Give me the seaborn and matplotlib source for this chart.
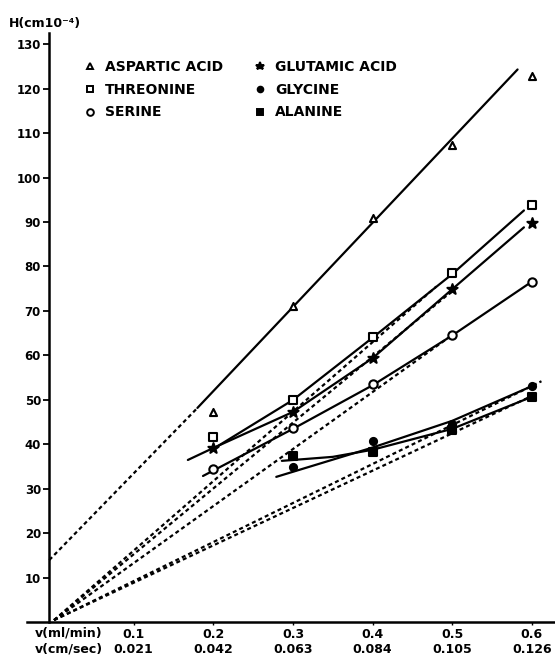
import matplotlib
matplotlib.use("Agg")
import matplotlib.pyplot as plt
import seaborn as sns
import pandas as pd
from matplotlib.lines import Line2D

# ---------------- data ----------------
x_main = [0.2, 0.3, 0.4, 0.5, 0.6]
x_late = [0.3, 0.4, 0.5, 0.6]

aspartic = [47.3, 71.1, 91.0, 107.3, 122.8]
threonine = [41.7, 50.0, 64.2, 78.5, 93.8]
glutamic = [39.1, 47.3, 59.4, 74.9, 89.7]
serine = [34.4, 43.6, 53.5, 64.6, 76.6]
glycine = [35.0, 40.8, 44.5, 53.1]
alanine = [37.4, 38.4, 43.2, 50.7]

# fitted (solid) curves
aspartic_fit_x = [0.18, 0.582]
aspartic_fit_y = [48.2, 124.3]
threonine_fit_x = [0.2, 0.3, 0.4, 0.5, 0.59]
threonine_fit_y = [39.0, 50.0, 64.0, 78.3, 92.6]
glutamic_fit_x = [0.168, 0.2, 0.3, 0.4, 0.5, 0.59]
glutamic_fit_y = [36.5, 39.2, 47.3, 59.4, 74.9, 88.8]
serine_fit_x = [0.187, 0.3, 0.4, 0.5, 0.595]
serine_fit_y = [32.9, 43.5, 53.3, 64.5, 76.0]
glycine_fit_x = [0.279, 0.4, 0.5, 0.6]
glycine_fit_y = [32.7, 39.3, 45.3, 53.1]
alanine_fit_x = [0.286, 0.35, 0.4, 0.5, 0.6]
alanine_fit_y = [36.3, 37.2, 38.8, 43.5, 50.7]

# extrapolated (dashed) lines
aspartic_ext_x = [-0.006, 0.18]
aspartic_ext_y = [14.0, 48.2]
threonine_ext_x = [0.0, 0.48]
threonine_ext_y = [0.5, 75.5]
glutamic_ext_x = [0.0, 0.5]
glutamic_ext_y = [0.5, 74.5]
serine_ext_x = [0.0, 0.5]
serine_ext_y = [0.5, 64.6]
glycine_ext_x = [0.0, 0.612]
glycine_ext_y = [0.5, 54.2]
alanine_ext_x = [0.0, 0.6]
alanine_ext_y = [0.5, 50.9]

x_ticks = [0.1, 0.2, 0.3, 0.4, 0.5, 0.6]
x_tick_ml = ["0.1", "0.2", "0.3", "0.4", "0.5", "0.6"]
x_tick_cm = ["0.021", "0.042", "0.063", "0.084", "0.105", "0.126"]
y_ticks = [10, 20, 30, 40, 50, 60, 70, 80, 90, 100, 110, 120, 130]

names = ["ASPARTIC ACID", "THREONINE", "SERINE", "GLUTAMIC ACID", "GLYCINE", "ALANINE"]

# ---------------- style ----------------
sns.set_theme(style="white")
plt.rcParams['font.family'] = ['DejaVu Sans']
plt.rcParams['font.weight'] = 'bold'
plt.rcParams['text.color'] = 'black'
plt.rcParams['xtick.color'] = 'black'
plt.rcParams['ytick.color'] = 'black'

W, H = 555, 657
fig = plt.figure(figsize=(W / 100, H / 100), dpi=100)
ax = fig.add_axes([27 / W, 1 - 622.3 / H, 1 - 27 / W, (622.3 - 33) / H])
ax.set_xlim(-0.034, 0.629)
ax.set_ylim(0, 132.5)

solid_kw = dict(color="black", lw=1.6, estimator=None, sort=False, ax=ax, legend=False)
dash_kw = dict(color="black", lw=1.6, estimator=None, sort=False, ax=ax, legend=False,
               linestyle=(0, (1.8, 1.4)))

for fx, fy in [(aspartic_fit_x, aspartic_fit_y), (threonine_fit_x, threonine_fit_y),
               (glutamic_fit_x, glutamic_fit_y), (serine_fit_x, serine_fit_y),
               (glycine_fit_x, glycine_fit_y), (alanine_fit_x, alanine_fit_y)]:
    sns.lineplot(x=fx, y=fy, **solid_kw)

for ex, ey in [(aspartic_ext_x, aspartic_ext_y), (threonine_ext_x, threonine_ext_y),
               (glutamic_ext_x, glutamic_ext_y), (serine_ext_x, serine_ext_y),
               (glycine_ext_x, glycine_ext_y), (alanine_ext_x, alanine_ext_y)]:
    sns.lineplot(x=ex, y=ey, **dash_kw)

marker_specs = {
    "ASPARTIC ACID": dict(marker="^", fc="white", s=26),
    "THREONINE": dict(marker="s", fc="white", s=30),
    "SERINE": dict(marker="o", fc="white", s=36),
    "GLUTAMIC ACID": dict(marker="*", fc="black", s=60),
    "GLYCINE": dict(marker="o", fc="black", s=26),
    "ALANINE": dict(marker="s", fc="black", s=32),
}
series = {
    "ASPARTIC ACID": (x_main, aspartic),
    "THREONINE": (x_main, threonine),
    "SERINE": (x_main, serine),
    "GLUTAMIC ACID": (x_main, glutamic),
    "GLYCINE": (x_late, glycine),
    "ALANINE": (x_late, alanine),
}
for nm in names:
    xs, ys = series[nm]
    sp = marker_specs[nm]
    sns.scatterplot(x=xs, y=ys, ax=ax, marker=sp["marker"], s=sp["s"],
                    facecolor=sp["fc"], edgecolor="black", linewidth=1.5,
                    zorder=4, legend=False)

# axes styling
for side in ["top", "right"]:
    ax.spines[side].set_visible(False)
ax.spines["left"].set_position(("data", -0.006))
for side in ["left", "bottom"]:
    ax.spines[side].set_color("black")
    ax.spines[side].set_linewidth(1.8)

ax.set_yticks(y_ticks)
ax.set_yticklabels([str(v) for v in y_ticks], fontsize=8.5, fontweight="bold",
                   color="black")
ax.tick_params(axis="y", direction="out", length=4, width=1.3, pad=2, color="black",
               left=True)
ax.set_xticks(x_ticks)
ax.set_xticklabels([f"{a}\n{b}" for a, b in zip(x_tick_ml, x_tick_cm)],
                   fontsize=9, fontweight="bold", linespacing=1.25, color="black")
ax.tick_params(axis="x", direction="out", length=2.5, width=1.0, pad=1.5, color="black",
               bottom=True)
ax.grid(False)

fig.text(35 / W, 1 - 627 / H, "v(ml/min)\nv(cm/sec)", ha="left", va="top",
         fontsize=9, fontweight="bold", linespacing=1.25, color="black")
fig.text(9 / W, 1 - 24 / H, "H(cm10⁻⁴)", ha="left", va="center",
         fontsize=9, fontweight="bold", color="black")

# legend
handles = []
for nm in names:
    sp = marker_specs[nm]
    handles.append(Line2D([], [], linestyle="none", marker=sp["marker"],
                          markersize=(sp["s"] ** 0.5) * 0.8,
                          markerfacecolor=sp["fc"], markeredgecolor="black",
                          markeredgewidth=1.4))
leg = fig.legend(handles, names, loc="upper left",
                 bbox_to_anchor=(84.5 / W, 1 - 60 / H), bbox_transform=fig.transFigure,
                 ncol=2, frameon=False, borderpad=0, borderaxespad=0,
                 handlelength=0.8, handletextpad=0.7, columnspacing=2.2,
                 labelspacing=0.63, prop=dict(size=10, weight="bold"))
for t in leg.get_texts():
    t.set_color("black")

fig.savefig("out.png", dpi=100)
